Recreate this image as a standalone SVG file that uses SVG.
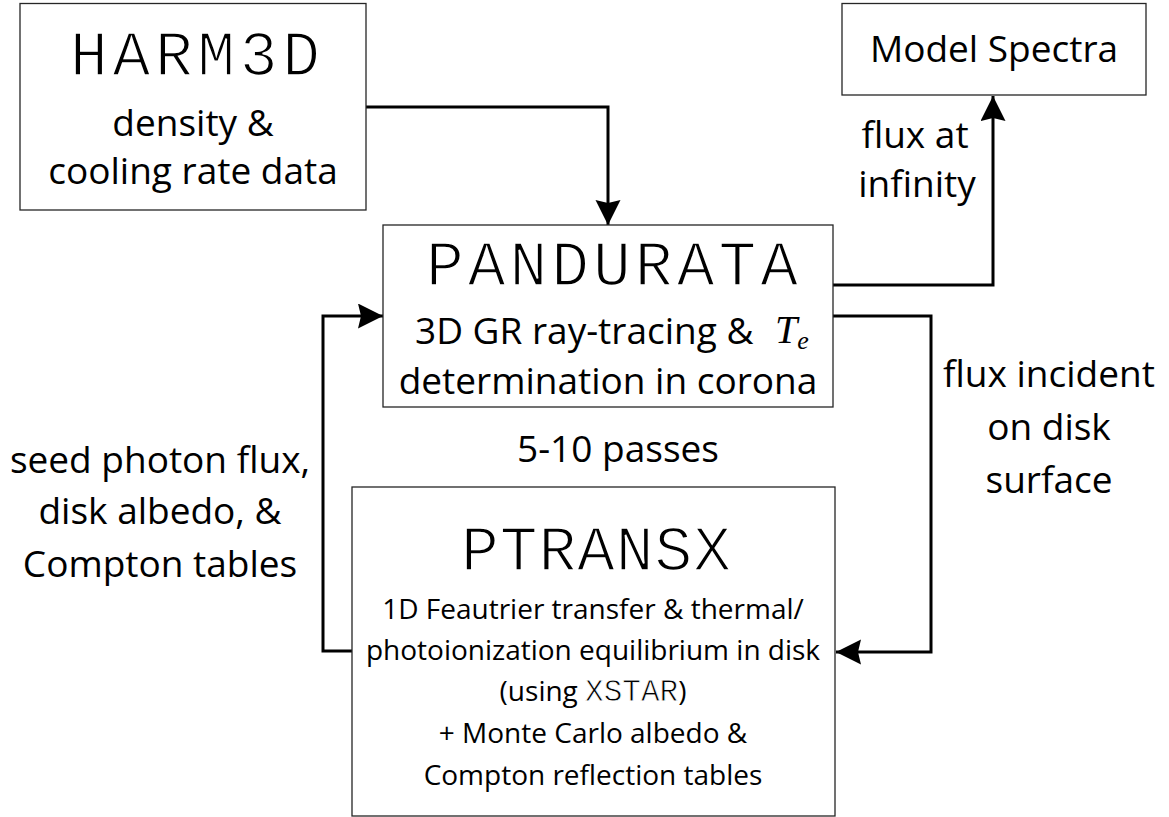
<svg xmlns="http://www.w3.org/2000/svg" width="1169" height="817" viewBox="0 0 1169 817">
  <style>
    .box { fill: #ffffff; stroke: #262626; stroke-width: 1.3; }
    .title { font-family: "Liberation Mono", "Courier New", monospace; font-size: 63px; fill: #000; stroke: #ffffff; stroke-width: 1.7px; }
    .big { font-family: "Open Sans", "Liberation Sans", sans-serif; font-size: 37px; fill: #000; text-anchor: middle; }
    .small { font-family: "Open Sans", "Liberation Sans", sans-serif; font-size: 28px; fill: #000; text-anchor: middle; }
    .mono { font-family: "Liberation Mono", "Courier New", monospace; stroke: #ffffff; stroke-width: 0.8px; }
    .math { font-family: "Liberation Serif", "Times New Roman", serif; font-style: italic; fill: #000; }
    .wire { fill: none; stroke: #000; stroke-width: 3; marker-end: url(#head); }
  </style>
  <defs>
    <marker id="head" markerUnits="userSpaceOnUse" markerWidth="26" markerHeight="26" refX="25" refY="12.5" orient="auto">
      <path d="M0,0 L25,12.5 L0,25 L3,12.5 Z" fill="#000"/>
    </marker>
  </defs>

  <rect width="1169" height="817" fill="#ffffff"/>

  <!-- connectors -->
  <g id="connectors">
    <path class="wire" d="M366,107 H608 V225"/>
    <path class="wire" d="M833,285 H993 V96"/>
    <path class="wire" d="M833,316 H931 V652 H836"/>
    <path class="wire" d="M352,651 H323 V316 H383"/>
  </g>

  <!-- HARM3D -->
  <g id="harm3d">
    <rect class="box" x="20" y="3.5" width="346" height="206.5"/>
    <text class="title" x="70" y="75" textLength="250">HARM3D</text>
    <text class="big" x="193" y="136">density &amp;</text>
    <text class="big" x="193" y="184">cooling rate data</text>
  </g>

  <!-- Model Spectra -->
  <g id="model-spectra">
    <rect class="box" x="842" y="3.5" width="304" height="91.5"/>
    <text class="big" x="994" y="62">Model Spectra</text>
  </g>

  <!-- PANDURATA -->
  <g id="pandurata">
    <rect class="box" x="383" y="225" width="450" height="182"/>
    <text class="title" x="426" y="285" textLength="372">PANDURATA</text>
    <text class="big" x="415" y="344" style="text-anchor:start">3D GR ray-tracing &amp;</text>
    <text class="math" x="775" y="343" font-size="40">T<tspan font-size="26" dy="6">e</tspan></text>
    <text class="big" x="608" y="394">determination in corona</text>
  </g>

  <!-- PTRANSX -->
  <g id="ptransx">
    <rect class="box" x="352" y="487" width="483" height="329"/>
    <text class="title" x="461" y="570" textLength="270">PTRANSX</text>
    <text class="small" x="593" y="619">1D Feautrier transfer &amp; thermal/</text>
    <text class="small" x="593" y="660">photoionization equilibrium in disk</text>
    <text class="small" x="593" y="701">(using <tspan class="mono" font-size="31">XSTAR</tspan>)</text>
    <text class="small" x="593" y="743">+ Monte Carlo albedo &amp;</text>
    <text class="small" x="593" y="785">Compton reflection tables</text>
  </g>

  <!-- connector labels -->
  <g id="labels">
    <text class="big" x="915" y="148">flux at</text>
    <text class="big" x="917" y="197">infinity</text>
    <text class="big" x="1049" y="387">flux incident</text>
    <text class="big" x="1049" y="440">on disk</text>
    <text class="big" x="1049" y="493">surface</text>
    <text class="big" x="160" y="473">seed photon flux,</text>
    <text class="big" x="160" y="524">disk albedo, &amp;</text>
    <text class="big" x="160" y="577">Compton tables</text>
    <text class="big" x="618" y="462">5-10 passes</text>
  </g>
</svg>
